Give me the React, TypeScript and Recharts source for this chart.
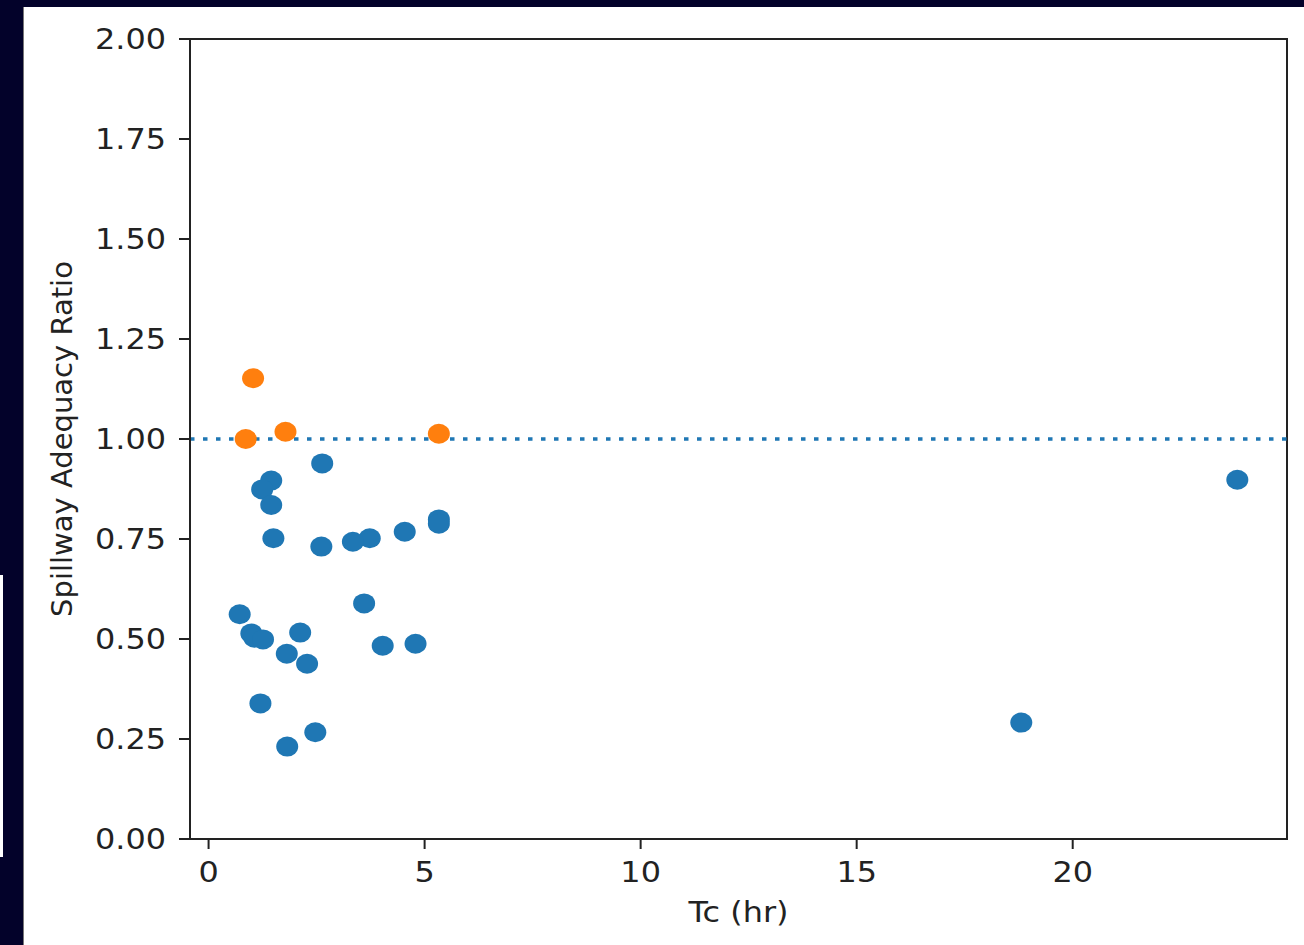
import { ScatterChart, Scatter, XAxis, YAxis, ReferenceLine, ReferenceArea } from 'recharts';

// Tc (hr) vs spillway adequacy ratio
const adequateTc = [1.03, 0.86, 1.78, 5.33];
const adequateRatio = [1.152, 1.0, 1.018, 1.013];

const inadequateTc = [
  2.63, 1.45, 1.24, 1.45, 1.5, 5.33, 5.33, 4.54, 3.73, 3.34, 2.61, 23.81, 0.72,
  0.99, 1.06, 1.26, 2.12, 1.81, 2.28, 3.6, 4.03, 4.79, 1.2, 2.47, 1.82, 18.81,
];
const inadequateRatio = [
  0.939, 0.896, 0.874, 0.835, 0.752, 0.799, 0.788, 0.768, 0.752, 0.743, 0.731, 0.898, 0.562,
  0.514, 0.503, 0.499, 0.516, 0.463, 0.438, 0.589, 0.483, 0.488, 0.339, 0.267, 0.231, 0.291,
];

const xTicks = [0, 5, 10, 15, 20];
const yTicks = [0, 0.25, 0.5, 0.75, 1.0, 1.25, 1.5, 1.75, 2.0];
const xDomain: [number, number] = [-0.43, 24.96];
const yDomain: [number, number] = [0, 2];

const BLUE = '#1f77b4';
const ORANGE = '#ff7f0e';
const INK = '#222';
const FONT = '"DejaVu Sans", sans-serif';
const FS = 29;
// the source screenshot is stretched sideways a little
const SX = 1.1;

const toPoints = (xs: number[], ys: number[]) => xs.map((x, i) => ({ x, y: ys[i] }));

const dot = (color: string) => (p: any) => (
  <ellipse cx={p.cx} cy={p.cy} rx={11} ry={10} fill={color} />
);

const makeTick = (dy: string, fmt: (v: number) => string) => (p: any) => (
  <g transform={`translate(${p.x},${p.y}) scale(${SX},1)`}>
    <text x={0} y={0} dy={dy} textAnchor={p.textAnchor} fontSize={FS} fill={INK} fontFamily={FONT}>
      {fmt(p.payload.value)}
    </text>
  </g>
);

const XTick = makeTick('0.71em', (v) => String(v));
const YTick = makeTick('0.355em', (v) => v.toFixed(2));

function XLabel({ viewBox }: any) {
  const x = viewBox.x + viewBox.width / 2;
  const y = viewBox.y + 83;
  return (
    <g transform={`translate(${x},${y}) scale(${SX},1)`}>
      <text x={0} y={0} textAnchor="middle" fontSize={FS} fill={INK} fontFamily={FONT}>
        Tc (hr)
      </text>
    </g>
  );
}

function YLabel({ viewBox }: any) {
  const x = viewBox.x + 48;
  const y = viewBox.y + viewBox.height / 2;
  return (
    <text x={x} y={y} transform={`rotate(-90 ${x} ${y})`} textAnchor="middle" fontSize={FS} fill={INK} fontFamily={FONT}>
      Spillway Adequacy Ratio
    </text>
  );
}

export default function App() {
  const blue = toPoints(inadequateTc, inadequateRatio);
  const orange = toPoints(adequateTc, adequateRatio);

  return (
    <div style={{ position: 'fixed', inset: 0, width: 1304, height: 945, background: '#03022a', overflow: 'hidden' }}>
      <div style={{ position: 'absolute', left: 0, top: 575, width: 3, height: 282, background: '#fff' }} />
      <div style={{ position: 'absolute', left: 23, top: 7, width: 1281, height: 938, background: '#fff', borderLeft: '1px solid #777', boxSizing: 'border-box' }}>
        <ScatterChart width={1280} height={938} margin={{ top: 32, right: 17, left: 0, bottom: 0 }}>
          <XAxis
            type="number"
            dataKey="x"
            domain={xDomain}
            ticks={xTicks}
            allowDataOverflow
            height={106}
            tick={XTick}
            tickSize={10}
            tickMargin={12}
            axisLine={{ stroke: INK, strokeWidth: 2 }}
            tickLine={{ stroke: INK, strokeWidth: 2 }}
            label={XLabel}
          />
          <YAxis
            type="number"
            dataKey="y"
            domain={yDomain}
            ticks={yTicks}
            allowDataOverflow
            width={166}
            tick={YTick}
            tickSize={11}
            tickMargin={13}
            axisLine={{ stroke: INK, strokeWidth: 2 }}
            tickLine={{ stroke: INK, strokeWidth: 2 }}
            label={YLabel}
          />
          <ReferenceArea x1={xDomain[0]} x2={xDomain[1]} y1={yDomain[0]} y2={yDomain[1]} fill="none" fillOpacity={0} stroke={INK} strokeWidth={2} />
          <ReferenceLine y={1} stroke={BLUE} strokeWidth={3.5} strokeDasharray="4.5 8.5" />
          <Scatter data={blue} fill={BLUE} shape={dot(BLUE)} isAnimationActive={false} />
          <Scatter data={orange} fill={ORANGE} shape={dot(ORANGE)} isAnimationActive={false} />
        </ScatterChart>
      </div>
    </div>
  );
}
